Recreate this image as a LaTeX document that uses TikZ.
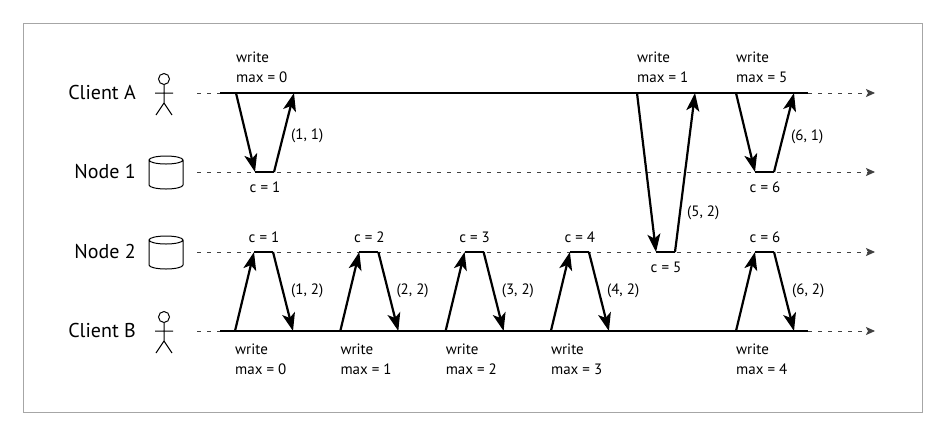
\documentclass[tikz,border=0pt]{standalone}
\usepackage{fontspec}
\setmainfont{PT Sans}
\usetikzlibrary{arrows.meta}
\tikzset{
  msg/.style={line width=2.2pt,-{Stealth[length=18pt,width=13pt,inset=4.5pt]}},
  flat/.style={line width=2.2pt},
  life/.style={line width=1.6pt},
  idle/.style={line width=0.9pt,black!75,dash pattern=on 4pt off 6pt},
  idletip/.style={idle,-{Stealth[length=9pt,width=8pt,inset=2pt]}},
  lbl/.style={font=\fontsize{20}{22}\selectfont,anchor=base east,inner sep=0pt},
  note/.style={font=\fontsize{15}{20}\selectfont,inner sep=0pt,align=left},
  person/.pic={\draw[line width=1pt] (0,-14) circle[radius=5.5pt] (0,-8.5) -- (0,10) (-9,0) -- (9,0) (-8,22) -- (0,10) -- (8,22);},
  disk/.pic={\draw[line width=1pt] (0,-13) ellipse[x radius=17pt,y radius=4pt] (-17,-13) -- (-17,12) arc[start angle=180,end angle=360,x radius=17pt,y radius=4pt] -- (17,-13);}
}
\begin{document}
\begin{tikzpicture}[x=1pt,y=-1pt]
\useasboundingbox (0,0) rectangle (939,432);
\draw[gray!70,line width=0.8pt] (23,23) rectangle (922,412);

\node[lbl] (cA) at (136,99.5) {Client A};
\node[lbl] (n1) at (136,178.5) {Node 1};
\node[lbl] (n2) at (136,258.5) {Node 2};
\node[lbl] (cB) at (136,337.5) {Client B};
\pic at (164,93) {person};
\pic at (164,331) {person};
\pic at (166,173) {disk};
\pic at (166,253) {disk};

\foreach \n/\y in {A/93,B/331}{
  \coordinate (\n0) at (197,\y);
  \coordinate (\n1) at (220,\y);
  \coordinate (\n2) at (808,\y);
  \coordinate (\n3) at (875,\y);
  \draw[idle] (\n0) -- (\n1);
  \draw[life] (\n1) -- (\n2);
  \draw[idletip] (\n2) -- (\n3);
}
\foreach \n/\y in {N1/172,N2/252}{
  \coordinate (\n0) at (197,\y);
  \coordinate (\n3) at (875,\y);
  \draw[idletip] (\n0) -- (\n3);
}

\foreach \i/\x/\y/\m/\c/\k/\lx/\ly in {1/236/172/0/1/1/55/136,2/637/252/1/5/2/50/213,3/736/172/5/6/1/55/137}{
  \coordinate (as\i) at (\x,93);
  \coordinate (ad\i) at (\x+19,\y);
  \coordinate (af\i) at (\x+38,\y);
  \coordinate (ae\i) at (\x+58,93);
  \draw[msg] (as\i) -- (ad\i);
  \draw[flat] (ad\i) -- (af\i);
  \draw[msg] (af\i) -- (ae\i);
  \node[note,anchor=south west] (wa\i) at (\x,83) {write\\max = \m};
  \node[note,anchor=base] (ca\i) at (\x+29,\y+20) {c = \c};
  \node[note,anchor=west] (pa\i) at (\x+\lx,\ly) {(\c, \k)};
}

\foreach \i/\x/\c/\m in {1/235/1/0,2/340.3/2/1,3/445.6/3/2,4/550.9/4/3,5/736/6/4}{
  \coordinate (bs\i) at (\x,331);
  \coordinate (bu\i) at (\x+19,252);
  \coordinate (bf\i) at (\x+38,252);
  \coordinate (be\i) at (\x+58,331);
  \draw[msg] (bs\i) -- (bu\i);
  \draw[flat] (bu\i) -- (bf\i);
  \draw[msg] (bf\i) -- (be\i);
  \node[note,anchor=north west] (wb\i) at (\x,344) {write\\max = \m};
  \node[note,anchor=base] (cb\i) at (\x+29,242) {c = \c};
  \node[note,anchor=west] (pb\i) at (\x+56,291) {(\c, 2)};
}
\end{tikzpicture}
\end{document}
